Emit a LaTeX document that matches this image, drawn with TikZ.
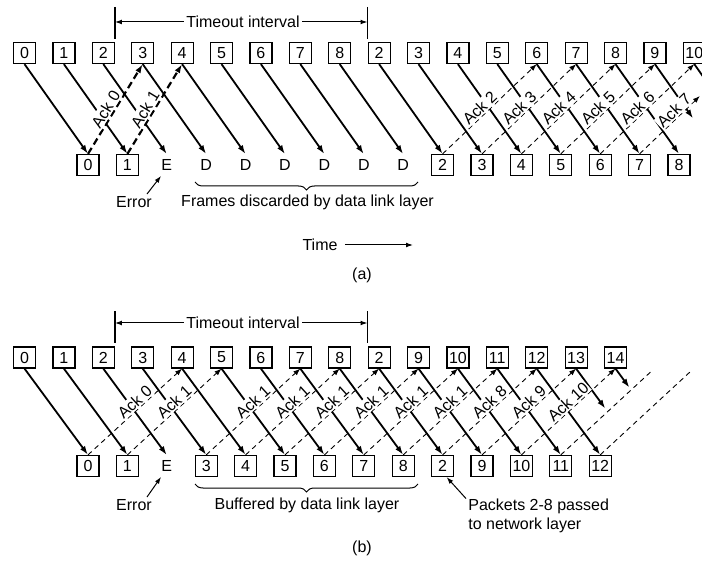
\documentclass[tikz,border=0pt]{standalone}
\usepackage{fontspec}
\setmainfont{Liberation Sans}
\usetikzlibrary{arrows.meta,calc,decorations.pathreplacing}
\tikzset{
  >={Latex[length=4.5pt,width=3pt]},
  every node/.style={font=\fontsize{8}{9.6}\selectfont,text=black},
  seqbox/.style={draw,line width=0.6pt,minimum width=11pt,minimum height=10.5pt,inner sep=0pt},
  slot/.style={inner sep=0pt,minimum height=10.5pt},
  sendarr/.style={->,line width=0.9pt},
  ackarr/.style={-{Latex[length=3.5pt,width=2.6pt]},line width=0.45pt,dash pattern=on 2.5pt off 2pt},
  ackline/.style={line width=0.45pt,dash pattern=on 2.5pt off 2pt},
  ackbold/.style={-{Latex[length=4.5pt,width=3pt]},line width=1.1pt,dash pattern=on 3.5pt off 2pt},
  acklabel/.style={sloped,above,fill=white,inner sep=0.6pt,pos=0.45},
  tickline/.style={line width=0.6pt},
  pointer/.style={-{Latex[length=3.5pt,width=2.4pt]},line width=0.5pt},
  txt/.style={inner sep=1pt},
  brace/.style={decorate,decoration={brace,mirror,amplitude=4pt},line width=0.5pt}
}

\begin{document}
\begin{tikzpicture}[x=0.5pt,y=-0.5pt]
  \useasboundingbox (0,0) rectangle (702,561);
  \clip (0,0) rectangle (702,561);

  % (a)
  \foreach \lbl [count=\i from 0] in {0,1,2,3,4,5,6,7,8,2,3,4,5,6,7,8,9,10}
    \node[seqbox] (sa\i) at ({24.5+39.4*\i},53) {\lbl};
  \foreach \st/\lbl [count=\j from 0] in {seqbox/0,seqbox/1,slot/E,slot/D,slot/D,slot/D,slot/D,slot/D,slot/D,seqbox/2,seqbox/3,seqbox/4,seqbox/5,seqbox/6,seqbox/7,seqbox/8}
    \node[\st] (ra\j) at ({88+39.4*\j},165) {\lbl};
  \coordinate (ra16) at ({88+39.4*16},154.5);
  \coordinate (ra17) at ({88+39.4*17},154.5);
  \coordinate (sa18) at ({24.5+39.4*18},63.5);

  \node[txt] (toa) at (243,22) {Timeout interval};
  \draw[tickline] ($(sa2.north east)+(0,-35)$) -- ($(sa2.north east)+(0,-3)$);
  \draw[tickline] ($(sa9.north west)+(0,-35)$) -- ($(sa9.north west)+(0,-3)$);
  \draw[pointer] (toa.west) -- (toa.west -| sa2.east);
  \draw[pointer] (toa.east) -- (toa.east -| sa9.west);

  \foreach \i in {0,...,15}
    \draw[sendarr] (sa\i.south) -- (ra\i.north);
  \draw[sendarr,shorten >=22pt] (sa16.south) -- (ra16);
  \draw[sendarr] (sa17.south) -- (ra17);

  \draw[ackbold] (ra0.north) -- node[acklabel]{Ack 0} (sa3.south);
  \draw[ackbold] (ra1.north) -- node[acklabel]{Ack 1} (sa4.south);
  \foreach \j/\k/\n in {9/13/2,10/14/3,11/15/4,12/16/5,13/17/6}
    \draw[ackarr] (ra\j.north) -- node[acklabel]{Ack \n} (sa\k.south);
  \draw[ackarr,shorten >=23.5pt] (ra14.north) -- node[acklabel,pos=0.42]{Ack 7} (sa18);

  \node[txt] (erra) at (134,202) {Error};
  \draw[pointer] ([xshift=6.5pt]erra.north) -- (ra2.south west);
  \draw[brace] (195,182) -- (418,182);
  \node[txt] (dropa) at (307.5,202) {Frames discarded by data link layer};
  \node[txt] (timea) at (320,245) {Time};
  \coordinate (timeend) at (413,245);
  \draw[pointer] ([xshift=2.5pt]timea.east) -- (timeend);
  \node[txt] (capa) at (362,275) {(a)};

  % (b)
  \foreach \lbl [count=\i from 0] in {0,1,2,3,4,5,6,7,8,2,9,10,11,12,13,14}
    \node[seqbox] (sb\i) at ({24.5+39.4*\i},357.5) {\lbl};
  \foreach \st/\lbl [count=\j from 0] in {seqbox/0,seqbox/1,slot/E,seqbox/3,seqbox/4,seqbox/5,seqbox/6,seqbox/7,seqbox/8,seqbox/2,seqbox/9,seqbox/10,seqbox/11,seqbox/12}
    \node[\st] (rb\j) at ({88+39.4*\j},466) {\lbl};
  \coordinate (rb14) at ({88+39.4*14},455.5);
  \coordinate (rb15) at ({88+39.4*15},455.5);
  \coordinate (sb16) at ({24.5+39.4*16},368);
  \coordinate (sb17) at ({24.5+39.4*17},368);

  \node[txt] (tob) at (243,323) {Timeout interval};
  \draw[tickline] ($(sb2.north east)+(0,-35)$) -- ($(sb2.north east)+(0,-3)$);
  \draw[tickline] ($(sb9.north west)+(0,-35)$) -- ($(sb9.north west)+(0,-3)$);
  \draw[pointer] (tob.west) -- (tob.west -| sb2.east);
  \draw[pointer] (tob.east) -- (tob.east -| sb9.west);

  \foreach \i in {0,...,13}
    \draw[sendarr] (sb\i.south) -- (rb\i.north);
  \draw[sendarr,shorten >=29pt] (sb14.south) -- (rb14);
  \draw[sendarr,shorten >=42pt] (sb15.south) -- (rb15);

  \foreach \j/\k/\n in {0/4/0,1/5/1,3/7/1,4/8/1,5/9/1,6/10/1,7/11/1,8/12/1,9/13/8,10/14/9,11/15/10}
    \draw[ackarr] (rb\j.north) -- node[acklabel,pos=0.55]{Ack \n} (sb\k.south);
  \draw[ackline,shorten >=2pt] (rb12.north) -- (sb16);
  \draw[ackline,shorten >=2pt] (rb13.north) -- (sb17);

  \node[txt] (errb) at (134,505) {Error};
  \draw[pointer] ([xshift=6.5pt]errb.north) -- (rb2.south west);
  \draw[brace] (195,484) -- (418,484);
  \node[txt] (bufb) at (307,505) {Buffered by data link layer};
  \node[txt,anchor=west,align=left] (pktb) at (466,516) {Packets 2-8 passed\\to network layer};
  \draw[pointer] ([yshift=-1pt]pktb.north west) -- ([xshift=2pt]rb9.south);
  \node[txt] (capb) at (362,548) {(b)};
\end{tikzpicture}
\end{document}
